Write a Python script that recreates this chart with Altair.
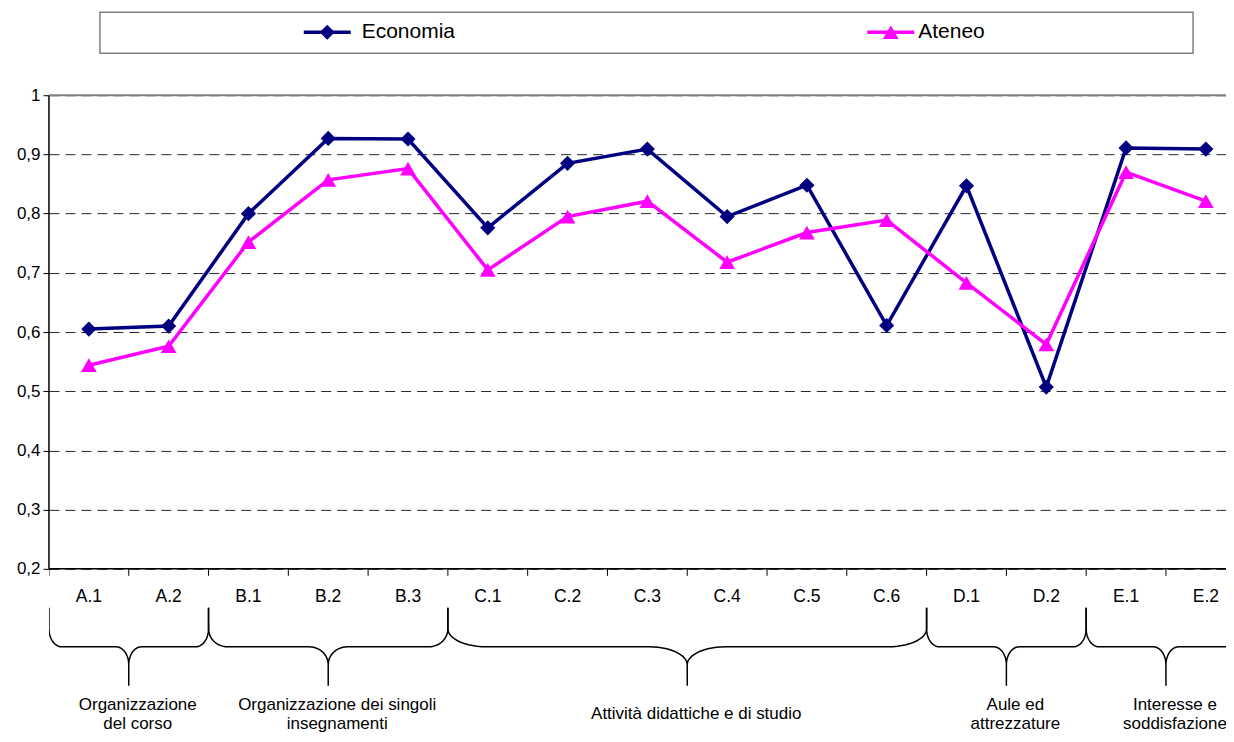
import numpy as np
import pandas as pd
import altair as alt

# --- data ------------------------------------------------------------------
categories = ["A.1", "A.2", "B.1", "B.2", "B.3", "C.1", "C.2", "C.3", "C.4",
              "C.5", "C.6", "D.1", "D.2", "E.1", "E.2"]
economia = [0.605, 0.610, 0.800, 0.927, 0.926, 0.776, 0.885, 0.909, 0.795,
            0.848, 0.611, 0.847, 0.507, 0.911, 0.909]
ateneo = [0.544, 0.576, 0.752, 0.857, 0.876, 0.705, 0.795, 0.821, 0.718,
          0.768, 0.789, 0.683, 0.579, 0.870, 0.821]
series = ["Economia", "Ateneo"]
series_colors = ["#000080", "#FF00FF"]
series_shapes = ["diamond", "triangle-up"]
group_labels = [["Organizzazione", "del corso"],
                ["Organizzazione dei singoli", "insegnamenti"],
                ["Attività didattiche e di studio"],
                ["Aule ed", "attrezzature"],
                ["Interesse e", "soddisfazione"]]
group_sizes = [2, 3, 6, 2, 2]
y_ticks = [0.2, 0.3, 0.4, 0.5, 0.6, 0.7, 0.8, 0.9, 1.0]

# --- layout (pixels) --------------------------------------------------------
FONT = "Liberation Sans"
PX_BAND = 79.85
W, H, PAD_L = 1178, 726, 41
Y_TOP, Y_BOT = 87, 561            # pixel rows of 1.0 and 0.2
per_unit = (Y_BOT - Y_TOP) / (y_ticks[-1] - y_ticks[0])
y_dom = [y_ticks[0] - (H - Y_BOT) / per_unit, y_ticks[-1] + Y_TOP / per_unit]
x_dom = [0, W / PX_BAND]
MARK_SIZE = {"diamond": 230, "triangle-up": 250}

xs = alt.Scale(domain=x_dom, nice=False, zero=False)
ys = alt.Scale(domain=y_dom, nice=False, zero=False)
px_x = alt.Scale(domain=[0, W], nice=False)
px_y = alt.Scale(domain=[H, 0], nice=False)

n = len(categories)
df = pd.DataFrame({
    "cat": categories * 2,
    "x": [i + 0.5 for i in range(n)] * 2,
    "value": economia + ateneo,
    "series": [series[0]] * n + [series[1]] * n,
})

label_expr = ("datum.value == 1 ? '1' : "
              "replace(format(datum.value, '.1f'), '.', ',')")
yax = alt.Axis(values=y_ticks, labelExpr=label_expr, domain=False,
               tickSize=6, tickColor="black", labelFontSize=17,
               labelFont=FONT, labelColor="black", labelPadding=3,
               grid=True, gridDash=[10, 6], gridColor="black",
               gridOpacity=0.85, gridWidth=1, title=None)


def series_layers(name, color, shape):
    d = df[df.series == name]
    enc = dict(x=alt.X("x:Q", scale=xs, axis=None),
               y=alt.Y("value:Q", scale=ys, axis=yax))
    line = alt.Chart(d).mark_line(color=color, strokeWidth=3.5).encode(**enc)
    pts = alt.Chart(d).mark_point(shape=shape, filled=True, opacity=1,
                                  color=color, size=MARK_SIZE[shape]).encode(**enc)
    return [line, pts]


frame = pd.DataFrame({"lo": [y_ticks[0]], "hi": [y_ticks[-1]]})
left_axis = alt.Chart(frame).mark_rule(color="black", strokeWidth=1.5).encode(
    x=alt.value(0), y=alt.Y("lo:Q", scale=ys, axis=yax), y2="hi:Q")
bottom_axis = alt.Chart(frame).mark_rule(color="black", strokeWidth=1.5).encode(
    x=alt.value(0), x2=alt.value(W), y=alt.Y("lo:Q", scale=ys, axis=yax))
top_border = alt.Chart(frame).mark_rule(color="#808080", strokeWidth=2).encode(
    x=alt.value(0), x2=alt.value(W), y=alt.Y("hi:Q", scale=ys, axis=yax))

main = alt.layer(
    *series_layers(series[0], series_colors[0], series_shapes[0]),
    *series_layers(series[1], series_colors[1], series_shapes[1]),
    left_axis, bottom_axis, top_border,
)

# --- below the axis: ticks, category labels, braces, group labels ----------
ticks = pd.DataFrame({"x": list(range(n + 1)), "y0": Y_BOT, "y1": Y_BOT + 7})
tick_rules = alt.Chart(ticks).mark_rule(color="black", strokeWidth=1,
                                        clip=True).encode(
    x=alt.X("x:Q", scale=xs, axis=None),
    y=alt.Y("y0:Q", scale=px_y, axis=None), y2="y1:Q")

cat_df = pd.DataFrame({"x": [i + 0.5 for i in range(n)], "cat": categories,
                       "y": Y_BOT + 28})
cat_text = alt.Chart(cat_df).mark_text(font=FONT, fontSize=17.5, color="black",
                                       baseline="middle").encode(
    x=alt.X("x:Q", scale=xs, axis=None),
    y=alt.Y("y:Q", scale=px_y, axis=None), text="cat:N")

# curly braces: straight vertical ends, rounded corners, pointed middle
B_TOP, B_MID, B_TIP, B_RY = 600, 639, 678, 18
t = np.linspace(0, np.pi / 2, 14)
rows = []
start = 0
for gid, size in enumerate(group_sizes):
    a, b = start, start + size
    c, rx = (a + b) / 2, 0.08 * size
    seg = ([(a, B_TOP)]
           + [(a + rx * (1 - np.cos(v)), B_MID - B_RY + B_RY * np.sin(v)) for v in t]
           + [(c - rx + rx * np.sin(v), B_MID + B_RY * (1 - np.cos(v))) for v in t]
           + [(c, B_TIP)]
           + [(c + rx - rx * np.sin(v), B_MID + B_RY * (1 - np.cos(v))) for v in t[::-1]]
           + [(b - rx * (1 - np.cos(v)), B_MID - B_RY + B_RY * np.sin(v)) for v in t[::-1]]
           + [(b, B_TOP)])
    for k, (px, py) in enumerate(seg):
        rows.append({"gid": gid, "ord": k, "x": px, "y": py})
    start = b
brace_df = pd.DataFrame(rows)
braces = alt.Chart(brace_df).mark_line(color="black", strokeWidth=1.5,
                                       clip=True).encode(
    x=alt.X("x:Q", scale=xs, axis=None),
    y=alt.Y("y:Q", scale=px_y, axis=None),
    detail="gid:N", order="ord:Q")

lab_rows = []
start = 0
for lines, size in zip(group_labels, group_sizes):
    c = start + size / 2
    if len(lines) == 1:
        lab_rows.append({"x": c, "y": 706, "t": lines[0]})
    else:
        lab_rows.append({"x": c, "y": 697, "t": lines[0]})
        lab_rows.append({"x": c, "y": 716, "t": lines[1]})
    start += size
group_text = alt.Chart(pd.DataFrame(lab_rows)).mark_text(
    font=FONT, fontSize=17, color="black", baseline="middle", dx=9).encode(
    x=alt.X("x:Q", scale=xs, axis=None),
    y=alt.Y("y:Q", scale=px_y, axis=None), text="t:N")

below = alt.layer(tick_rules, cat_text, braces, group_text)

# --- legend box ---------------------------------------------------------------
box = pd.DataFrame({"x0": [51], "x1": [1145], "y0": [4], "y1": [45]})
leg_box = alt.Chart(box).mark_rect(fill="white", stroke="#808080",
                                   strokeWidth=1.5).encode(
    x=alt.X("x0:Q", scale=px_x, axis=None), x2="x1:Q",
    y=alt.Y("y0:Q", scale=px_y, axis=None), y2="y1:Q")

leg = pd.DataFrame({"series": series, "color": series_colors,
                    "shape": series_shapes,
                    "l0": [255, 819], "l1": [302, 866], "tx": [313, 870],
                    "y": [24, 24]})
leg["m"] = (leg.l0 + leg.l1) / 2
legend_layers = [leg_box]
for i, row in leg.iterrows():
    d = leg.iloc[[i]]
    legend_layers.append(alt.Chart(d).mark_rule(color=row.color, strokeWidth=3.5).encode(
        x=alt.X("l0:Q", scale=px_x, axis=None), x2="l1:Q",
        y=alt.Y("y:Q", scale=px_y, axis=None)))
    legend_layers.append(alt.Chart(d).mark_point(
        shape=row["shape"], filled=True, opacity=1, color=row.color,
        size=MARK_SIZE[row["shape"]]).encode(
        x=alt.X("m:Q", scale=px_x, axis=None),
        y=alt.Y("y:Q", scale=px_y, axis=None)))
    legend_layers.append(alt.Chart(d).mark_text(
        font=FONT, fontSize=21, color="black", align="left",
        baseline="middle").encode(
        x=alt.X("tx:Q", scale=px_x, axis=None),
        y=alt.Y("y:Q", scale=px_y, axis=None), text="series:N"))
legend = alt.layer(*legend_layers)

chart = alt.layer(main, below, legend).resolve_scale(
    x="independent", y="independent"
).properties(
    width=W, height=H, background="white",
    autosize=alt.AutoSizeParams(type="none"),
    padding={"left": PAD_L, "top": 0, "right": 0, "bottom": 0},
).configure_view(stroke="transparent", strokeWidth=0)

chart.save("out.html", embed_options={"renderer": "svg", "actions": False})
